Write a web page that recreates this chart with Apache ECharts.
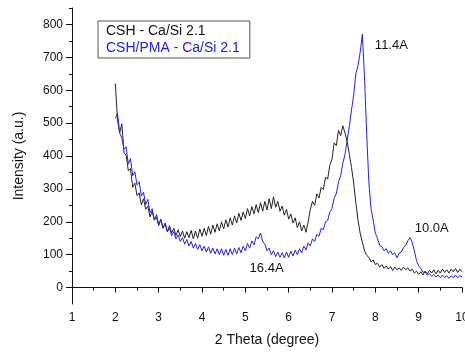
<!DOCTYPE html>
<html>
<head>
<meta charset="utf-8">
<script src="https://cdn.jsdelivr.net/npm/echarts@6/dist/echarts.min.js"></script>
<style>
  html, body { margin: 0; padding: 0; background: #fff; }
  #chart { width: 465px; height: 353px; }
</style>
</head>
<body>
<div id="chart"></div>
<script>
// 2 theta positions (degree)
var theta = [
  2.00, 2.05, 2.10, 2.15, 2.20, 2.25, 2.30, 2.35, 2.40, 2.45,
  2.50, 2.55, 2.60, 2.65, 2.70, 2.75, 2.80, 2.85, 2.90, 2.95,
  3.00, 3.05, 3.10, 3.15, 3.20, 3.25, 3.30, 3.35, 3.40, 3.45,
  3.50, 3.55, 3.60, 3.65, 3.70, 3.75, 3.80, 3.85, 3.90, 3.95,
  4.00, 4.05, 4.10, 4.15, 4.20, 4.25, 4.30, 4.35, 4.40, 4.45,
  4.50, 4.55, 4.60, 4.65, 4.70, 4.75, 4.80, 4.85, 4.90, 4.95,
  5.00, 5.05, 5.10, 5.15, 5.20, 5.25, 5.30, 5.35, 5.40, 5.45,
  5.50, 5.55, 5.60, 5.65, 5.70, 5.75, 5.80, 5.85, 5.90, 5.95,
  6.00, 6.05, 6.10, 6.15, 6.20, 6.25, 6.30, 6.35, 6.40, 6.45,
  6.50, 6.55, 6.60, 6.65, 6.70, 6.75, 6.80, 6.85, 6.90, 6.95,
  7.00, 7.05, 7.10, 7.15, 7.20, 7.25, 7.30, 7.35, 7.40, 7.45,
  7.50, 7.55, 7.60, 7.65, 7.70, 7.75, 7.80, 7.85, 7.90, 7.95,
  8.00, 8.05, 8.10, 8.15, 8.20, 8.25, 8.30, 8.35, 8.40, 8.45,
  8.50, 8.55, 8.60, 8.65, 8.70, 8.75, 8.80, 8.85, 8.90, 8.95,
  9.00, 9.05, 9.10, 9.15, 9.20, 9.25, 9.30, 9.35, 9.40, 9.45,
  9.50, 9.55, 9.60, 9.65, 9.70, 9.75, 9.80, 9.85, 9.90, 9.95,
  10.00
];

// CSH - Ca/Si 2.1
var cshValues = [
  620, 510, 470, 498, 410, 402, 355, 362, 305, 318,
  280, 288, 252, 270, 238, 248, 215, 232, 205, 214,
  188, 206, 182, 195, 170, 188, 166, 180, 158, 176,
  155, 172, 150, 170, 152, 174, 148, 172, 150, 178,
  156, 180, 158, 186, 162, 190, 168, 194, 172, 200,
  178, 206, 184, 212, 190, 218, 196, 226, 204, 230,
  210, 240, 218, 246, 224, 252, 228, 258, 232, 262,
  236, 270, 240, 276, 244, 262, 232, 248, 220, 238,
  208, 224, 196, 212, 182, 200, 172, 190, 168, 200,
  238, 262, 250, 285, 272, 305, 298, 335, 330, 372,
  390, 440, 432, 478, 462, 492, 470, 445, 405, 365,
  318, 258, 205, 165, 138, 112, 98, 92, 78, 84,
  70, 74, 62, 70, 58, 66, 56, 64, 52, 62,
  54, 60, 52, 62, 54, 60, 50, 56, 44, 50,
  40, 48, 38, 50, 42, 52, 44, 54, 42, 52,
  44, 56, 46, 54, 44, 56, 48, 58, 46, 56,
  48
];

// CSH/PMA - Ca/Si 2.1
var pmaValues = [
  515, 530, 470, 455, 420, 428, 375, 392, 340, 352,
  312, 322, 278, 290, 252, 268, 228, 240, 205, 222,
  192, 208, 180, 196, 170, 180, 158, 170, 148, 160,
  140, 152, 132, 146, 126, 140, 120, 134, 116, 130,
  112, 126, 108, 124, 104, 120, 102, 118, 100, 118,
  98, 116, 98, 118, 100, 120, 102, 122, 106, 126,
  112, 134, 120, 142, 130, 154, 148, 166, 140, 132,
  112, 120, 100, 112, 94, 108, 92, 106, 90, 108,
  92, 110, 96, 114, 100, 118, 106, 126, 114, 136,
  126, 148, 140, 162, 156, 180, 176, 200, 204, 230,
  240, 272, 285, 322, 340, 378, 405, 448, 490, 540,
  585, 650, 675, 715, 770, 640, 470, 320, 240, 205,
  165, 150, 128, 124, 112, 118, 104, 112, 100, 106,
  90, 104, 108, 122, 128, 142, 152, 138, 112, 82,
  66, 58, 46, 48, 38, 42, 34, 40, 32, 38,
  30, 38, 30, 36, 28, 36, 30, 38, 30, 36,
  32
];

var yLabelValues = [0, 100, 200, 300, 400, 500, 600, 700, 800];
var yMinorValues = [50, 150, 250, 350, 450, 550, 650, 750, 850];

// peak annotations [theta, intensity, text]
var peakLabels = [
  [8.37, 737, '11.4A'],
  [9.30, 181, '10.0A'],
  [5.49, 59, '16.4A']
];

function pairs(vals) {
  return theta.map(function (t, i) { return [t, vals[i]]; });
}

var chart = echarts.init(document.getElementById('chart'));
var font = 'Liberation Sans, Arial, sans-serif';

var option = {
  animation: false,
  textStyle: { fontFamily: font },
  grid: { left: 72, right: 3, top: 8, bottom: 49, containLabel: false, outerBoundsMode: 'none' },
  legend: {
    orient: 'vertical',
    left: 98,
    top: 21,
    itemWidth: 0,
    itemHeight: 0,
    itemGap: 3,
    padding: [3, 10, 3, 4],
    borderColor: '#555',
    borderWidth: 1,
    borderRadius: 0,
    textStyle: { fontSize: 14, fontFamily: font, padding: [0, 0, 0, -2] },
    data: [
      { name: 'CSH - Ca/Si 2.1', textStyle: { color: '#111' } },
      { name: 'CSH/PMA - Ca/Si 2.1', textStyle: { color: '#2020ee' } }
    ]
  },
  xAxis: {
    type: 'value',
    min: 1,
    max: 10,
    interval: 1,
    name: '2 Theta (degree)',
    nameLocation: 'middle',
    nameGap: 29,
    nameTextStyle: { fontSize: 14, color: '#111', fontFamily: font },
    axisLine: { lineStyle: { color: '#111', width: 1 } },
    axisTick: { length: 5, lineStyle: { color: '#111' } },
    minorTick: { show: true, splitNumber: 2, length: 3, lineStyle: { color: '#111' } },
    axisLabel: { fontSize: 12, color: '#111', margin: 8 },
    splitLine: { show: false }
  },
  yAxis: [{
    type: 'value',
    min: -50,
    max: 850,
    name: 'Intensity (a.u.)',
    nameLocation: 'middle',
    nameGap: 46,
    nameTextStyle: { fontSize: 14, color: '#111', fontFamily: font },
    axisLine: { show: true, lineStyle: { color: '#111', width: 1 } },
    axisTick: { show: true, length: 6, customValues: yLabelValues, lineStyle: { color: '#111' } },
    axisLabel: { fontSize: 12, color: '#111', margin: 9, customValues: yLabelValues },
    splitLine: { show: false }
  }, {
    type: 'value',
    position: 'left',
    min: -50,
    max: 850,
    axisLine: { show: false },
    axisTick: { show: true, length: 3, customValues: yMinorValues, lineStyle: { color: '#111' } },
    axisLabel: { show: false },
    splitLine: { show: false }
  }],
  series: [{
    name: 'CSH - Ca/Si 2.1',
    type: 'line',
    data: pairs(cshValues),
    showSymbol: false,
    color: '#222',
    lineStyle: { width: 1, color: '#222' }
  }, {
    name: 'CSH/PMA - Ca/Si 2.1',
    type: 'line',
    data: pairs(pmaValues),
    showSymbol: false,
    color: '#2020ee',
    lineStyle: { width: 1, color: '#2020ee' },
    markPoint: {
      symbol: 'circle',
      symbolSize: 0,
      label: {
        show: true,
        position: 'inside',
        color: '#111',
        fontSize: 13,
        fontFamily: font,
        formatter: function (p) { return p.name; }
      },
      data: peakLabels.map(function (d) {
        return { name: d[2], coord: [d[0], d[1]] };
      })
    }
  }]
};

chart.setOption(option);
</script>
</body>
</html>
